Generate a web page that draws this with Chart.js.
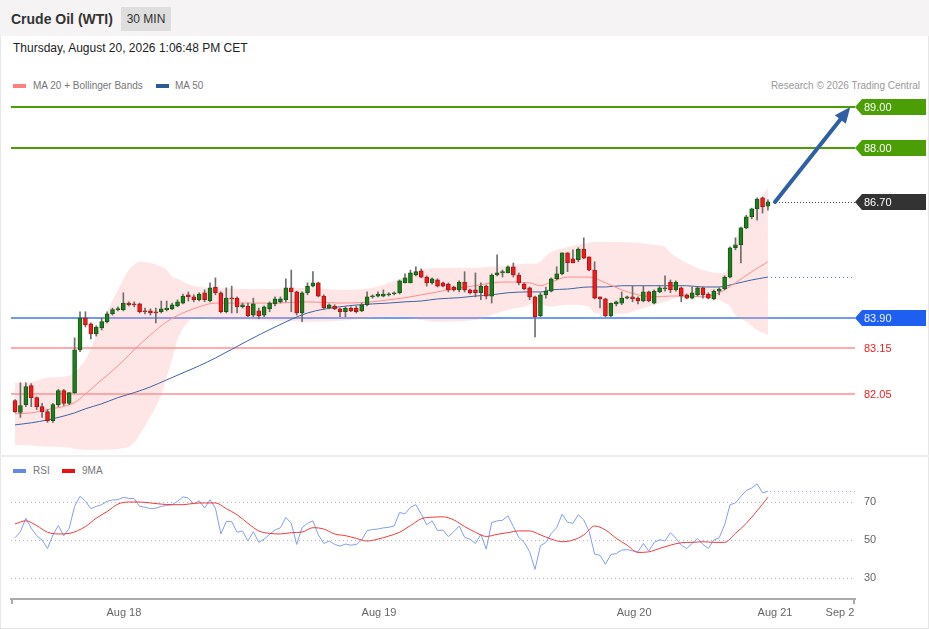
<!DOCTYPE html>
<html><head><meta charset="utf-8">
<script src="https://cdn.jsdelivr.net/npm/chart.js@4.4.1/dist/chart.umd.min.js"></script>
<style>
html,body{margin:0;padding:0;background:#fff;}
body{width:929px;height:629px;position:relative;overflow:hidden;font-family:"Liberation Sans",Arial,Helvetica,sans-serif;}
#frame{position:absolute;left:0;top:0;width:927px;height:627px;border:1px solid #e6e6e6;}
#header{position:absolute;left:0;top:0;width:929px;height:36px;background:#f5f3f3;}
#title{position:absolute;left:11px;top:11px;font-size:14px;line-height:16px;font-weight:bold;color:#333;}
#tf{position:absolute;left:121px;top:7px;width:50px;height:24px;background:#dedede;color:#333;font-size:12px;line-height:24px;text-align:center;}
#date{position:absolute;left:13px;top:41px;font-size:12px;line-height:14px;color:#222;}
.leg{position:absolute;font-size:10px;line-height:12px;color:#777;white-space:nowrap;}
.sw{position:absolute;width:13px;height:4px;}
#sep{position:absolute;left:0;top:455px;width:929px;height:2px;background:#eeeeee;}
.cv{position:absolute;left:0;}
</style></head>
<body>
<div id="frame"></div>
<div id="header"></div>
<div id="title">Crude Oil (WTI)</div>
<div id="tf">30 MIN</div>
<div id="date">Thursday, August 20, 2026 1:06:48 PM CET</div>
<div class="sw" style="left:13px;top:84px;background:#ff8080;"></div>
<div class="leg" style="left:33px;top:80px;">MA 20 + Bollinger Bands</div>
<div class="sw" style="left:156px;top:84px;background:#2f5a9a;"></div>
<div class="leg" style="left:175px;top:80px;">MA 50</div>
<div class="leg" style="right:9px;top:80px;color:#999;">Research © 2026 Trading Central</div>
<div id="sep"></div>
<div class="sw" style="left:13px;top:469px;background:#6688e8;"></div>
<div class="leg" style="left:33px;top:465px;">RSI</div>
<div class="sw" style="left:62px;top:469px;background:#ee1111;"></div>
<div class="leg" style="left:82px;top:465px;">9MA</div>
<div class="cv" style="top:90px;width:929px;height:365px;"><canvas id="price" width="929" height="365"></canvas></div>
<div class="cv" style="top:457px;width:929px;height:172px;"><canvas id="rsi" width="929" height="172"></canvas></div>
<script>
// ---------- DATA ----------
const opens = [
81.89,81.60,81.79,82.25,81.96,81.74,81.62,81.40,81.79,82.13,
81.82,82.08,83.12,83.89,83.75,83.50,83.65,83.80,83.99,84.09,
84.09,84.25,84.23,84.23,84.06,84.06,84.04,84.04,84.09,84.11,
84.18,84.25,84.45,84.40,84.33,84.50,84.30,84.64,84.50,84.04,
84.37,84.37,84.16,84.18,83.96,84.06,83.96,84.11,84.23,84.28,
84.33,84.62,84.52,84.01,84.50,84.66,84.74,84.42,84.13,84.18,
84.11,84.04,84.13,84.13,84.06,84.21,84.40,84.42,84.42,84.45,
84.47,84.50,84.74,84.74,84.93,85.03,84.88,84.74,84.81,84.74,
84.71,84.64,84.57,84.76,84.57,84.57,84.50,84.66,84.42,84.93,
84.98,84.98,85.13,84.93,84.71,84.62,84.40,83.94,84.45,84.54,
84.84,84.96,85.47,85.32,85.30,85.56,85.37,85.05,84.40,84.35,
83.94,84.23,84.25,84.37,84.40,84.37,84.30,84.52,84.25,84.52,
84.59,84.76,84.57,84.62,84.45,84.37,84.45,84.62,84.47,84.35,
84.54,84.59,84.88,85.59,85.66,86.07,86.34,86.53,86.80,86.60];
const highs = [
81.91,82.32,82.32,82.30,81.98,81.82,81.67,81.82,82.16,82.16,
82.08,83.41,84.04,84.04,83.77,83.70,83.89,84.04,84.13,84.16,
84.50,84.28,84.28,84.25,84.13,84.11,84.13,84.30,84.30,84.25,
84.33,84.47,84.52,84.45,84.50,84.57,84.74,84.86,84.52,84.62,
84.66,84.40,84.25,84.25,84.37,84.13,84.18,84.28,84.40,84.40,
84.84,85.05,84.54,84.52,84.74,85.01,84.76,84.45,84.23,84.21,
84.13,84.16,84.16,84.18,84.25,84.52,84.45,84.52,84.57,84.50,
84.52,84.81,84.96,85.05,85.13,85.08,84.91,84.86,84.84,84.76,
84.74,84.66,84.79,85.01,84.59,84.98,84.74,84.69,84.96,85.42,
85.05,85.15,85.22,84.98,84.74,84.64,84.42,84.50,84.64,84.86,
85.13,85.47,85.47,85.54,85.59,85.83,85.37,85.25,84.40,84.37,
84.25,84.30,84.52,84.42,84.66,84.40,84.66,84.54,84.57,84.66,
84.91,84.81,84.79,84.64,84.47,84.64,84.64,84.64,84.50,84.57,
84.62,84.91,85.61,85.83,86.09,86.38,86.55,86.80,86.82,86.75];
const lows = [
81.60,81.48,81.74,81.74,81.67,81.48,81.36,81.36,81.74,81.77,
81.79,82.06,83.07,83.67,83.38,83.45,83.60,83.77,83.96,84.06,
84.06,84.18,84.16,84.01,83.99,83.96,83.77,84.01,84.06,84.09,
84.16,84.23,84.30,84.28,84.30,84.28,84.28,84.45,84.01,84.01,
84.01,84.01,84.13,83.92,83.92,83.87,83.92,84.04,84.18,84.25,
84.28,84.04,83.96,83.80,84.45,84.64,84.40,84.09,84.11,84.09,
83.92,83.92,84.04,84.01,84.04,84.18,84.37,84.40,84.40,84.42,
84.45,84.47,84.74,84.74,84.91,84.86,84.66,84.71,84.64,84.64,
84.52,84.54,84.52,84.52,84.47,84.40,84.33,84.35,84.25,84.91,
84.88,84.98,84.88,84.69,84.57,84.33,83.43,83.92,84.37,84.52,
84.81,84.93,85.01,85.22,85.25,85.32,85.03,84.35,84.13,83.92,
83.92,84.18,84.21,84.35,84.28,84.23,84.28,84.28,84.23,84.50,
84.54,84.50,84.54,84.28,84.35,84.35,84.42,84.37,84.35,84.33,
84.45,84.57,84.86,85.54,85.22,86.05,86.29,86.26,86.43,86.50];
const closes = [
81.62,81.77,82.23,81.96,81.74,81.62,81.40,81.79,82.13,81.82,
82.08,83.12,83.89,83.72,83.50,83.67,83.80,83.99,84.09,84.11,
84.25,84.21,84.21,84.04,84.04,84.01,84.01,84.11,84.13,84.21,
84.28,84.42,84.40,84.33,84.47,84.33,84.62,84.50,84.04,84.37,
84.35,84.16,84.21,83.94,84.23,83.94,84.16,84.25,84.35,84.35,
84.62,84.52,84.01,84.50,84.66,84.74,84.42,84.13,84.21,84.11,
84.04,84.13,84.06,84.04,84.21,84.40,84.42,84.47,84.47,84.47,
84.50,84.79,84.86,84.98,85.01,84.88,84.74,84.84,84.66,84.66,
84.57,84.57,84.76,84.57,84.50,84.50,84.66,84.42,84.93,84.98,
85.01,85.13,84.93,84.74,84.59,84.40,83.92,84.45,84.54,84.84,
84.96,85.47,85.22,85.22,85.56,85.34,85.05,84.37,84.35,83.94,
84.25,84.28,84.37,84.40,84.35,84.30,84.52,84.30,84.54,84.62,
84.62,84.57,84.76,84.42,84.37,84.50,84.62,84.45,84.37,84.54,
84.59,84.88,85.59,85.66,86.07,86.34,86.53,86.77,86.58,86.70];

// moving averages sampled at candle indices
const maIdx = [0,3,6,11,13,16,19,22,25,28,31,34,37,43,48,54,60,66,69,72,75,78,82,85,88,91,95,97,99,102,106,109,112,115,118,121,124,127,130,133,136,139];
const ma20 = [81.57,81.59,81.67,81.84,82.05,82.39,82.73,83.12,83.48,83.80,84.01,84.16,84.25,84.25,84.25,84.28,84.25,84.28,84.33,84.38,84.45,84.52,84.62,84.67,84.74,84.76,84.74,84.67,84.76,84.88,84.88,84.74,84.57,84.45,84.40,84.42,84.42,84.40,84.50,84.74,85.01,85.25];
const ma50 = [81.30,81.35,81.42,81.59,81.69,81.81,81.96,82.08,82.22,82.39,82.56,82.73,82.92,83.34,83.67,84.01,84.16,84.23,84.25,84.28,84.30,84.35,84.38,84.42,84.45,84.50,84.52,84.52,84.57,84.59,84.64,84.64,84.67,84.67,84.67,84.67,84.67,84.64,84.64,84.72,84.81,84.88];

// Bollinger bands
const bandIdx = [0,3,6,10,11,13,16,19,21,22,23,25,27,28,29,30,32,34,37,43,48,54,60,66,69,72,75,78,85,88,91,94,96,99,102,106,107,112,115,118,120,121,124,127,130,131,132,133,135,137,139];
const bandUpper = [82.32,82.34,82.44,82.49,82.59,82.88,83.77,84.57,85.05,85.18,85.25,85.22,85.13,85.05,84.88,84.84,84.71,84.64,84.62,84.59,84.59,84.62,84.57,84.62,84.74,84.88,85.05,85.10,85.10,85.13,85.15,85.20,85.20,85.49,85.61,85.71,85.73,85.73,85.71,85.66,85.61,85.47,85.22,85.05,84.98,84.98,85.25,85.78,86.26,86.67,87.04];
const bandLower = [80.82,80.80,80.77,80.75,80.72,80.70,80.70,80.72,80.77,80.87,81.06,81.50,82.03,82.47,82.88,83.36,83.80,83.89,83.84,83.84,83.82,83.80,83.82,83.89,83.92,83.92,83.84,83.80,83.84,83.96,84.09,84.16,84.25,84.16,84.21,84.16,84.01,83.99,84.09,84.21,84.28,84.33,84.45,84.38,84.33,84.25,84.18,83.96,83.80,83.60,83.48];

// key levels
const levelValues = [89.00, 88.00, 86.70, 83.90, 83.15, 82.05];
const levelKinds  = ['resistance','resistance','last','pivot','support','support'];

// forecast arrow [index, price]
const arrowFrom = [140.3, 86.70];
const arrowTo   = [154.2, 89.00];

// RSI
const rsi = [
51.2,54.4,61.5,56.2,52.3,50.0,45.6,52.7,57.6,52.3,
56.2,67.7,73.0,70.4,66.5,67.7,68.6,70.4,71.1,71.2,
72.5,71.9,71.8,67.7,67.3,66.5,66.8,67.7,68.2,68.6,
70.4,72.7,72.1,68.9,70.7,66.8,71.2,66.8,53.2,59.7,
59.7,54.1,54.8,49.5,54.4,48.8,50.5,53.0,55.3,56.5,
61.9,58.8,47.7,56.5,58.8,60.1,52.7,48.2,49.5,47.7,
46.8,47.9,47.3,47.7,50.0,55.0,55.5,55.8,56.4,56.7,
57.4,64.5,63.8,67.3,68.6,63.6,58.0,60.1,55.0,55.3,
51.8,54.4,57.4,51.5,50.4,48.2,53.0,45.2,59.2,60.1,
60.4,62.7,57.1,51.4,48.8,43.8,34.6,47.0,48.8,53.5,
56.5,63.6,59.4,58.8,63.3,60.6,54.4,42.6,42.0,37.3,
42.4,42.9,44.7,45.0,44.3,43.8,48.2,44.2,48.8,50.2,
49.5,53.9,50.9,47.3,45.6,48.2,50.9,47.7,45.6,50.0,
51.2,58.0,68.6,69.5,73.0,76.0,77.4,79.6,74.8,75.7];
const rsiMaIdx = [0,2,4,6,8,10,13,15,17,19,21,23,25,27,29,31,33,35,37,39,41,43,45,47,49,51,53,55,57,59,61,63,65,67,69,71,73,75,77,79,81,83,85,87,89,91,93,95,97,99,101,103,105,107,109,111,113,115,117,119,121,123,125,127,129,131,133,135,137,139];
const rsiMa = [58.5,60.1,57.6,54.1,53.2,53.5,57.1,61.5,65.0,68.9,70.0,70.0,69.5,68.9,68.6,68.6,69.3,69.5,69.5,66.5,63.3,58.8,54.8,53.5,53.2,53.9,54.2,56.5,55.8,53.2,52.3,50.9,49.5,50.5,52.1,54.1,57.6,61.2,62.0,62.2,60.6,57.1,54.1,51.9,53.0,53.9,54.8,54.8,52.7,50.5,49.1,50.0,52.7,57.4,55.3,50.9,47.3,43.5,43.8,45.6,47.3,48.6,48.8,49.1,48.8,48.8,53.5,58.8,65.4,72.5];
const rsiGrid = [30, 50, 70];

// x axis
const tickIdx = [20.1, 67.2, 114.3, 140.3, 152.3];
const tickLabels = ['Aug 18', 'Aug 19', 'Aug 20', 'Aug 21', 'Sep 2'];

// ---------- CHART ----------
const X_MIN = -0.74, X_MAX = 155.07;
Chart.defaults.font.family = '"Liberation Sans", Arial, Helvetica, sans-serif';
Chart.defaults.animation = false;

const GREEN = '#1e7d1e', GREEN_B = '#125a12', RED = '#ee1c1c', RED_B = '#b01212';
const isUp = i => closes[i] >= opens[i];
const idx = opens.map((_, i) => i);

const levelStyle = {
  resistance: {line: '#4b9e05', box: '#4b9e05', text: '#ffffff'},
  last:       {line: null,      box: '#333333', text: '#ffffff'},
  pivot:      {line: '#6f9cf2', box: '#1f5ff0', text: '#eef3ff'},
  support:    {line: '#ffabab', box: null,      text: '#f01e1e'}
};

const pricePlugin = {
  id: 'priceDecor',
  beforeDatasetsDraw(chart) {
    const {ctx, chartArea: a, scales: {y}} = chart;
    ctx.save();
    levelValues.forEach((v, k) => {
      const st = levelStyle[levelKinds[k]];
      if (!st.line) return;
      const py = Math.round(y.getPixelForValue(v));
      ctx.strokeStyle = st.line; ctx.lineWidth = 2;
      ctx.beginPath(); ctx.moveTo(a.left, py); ctx.lineTo(a.right, py); ctx.stroke();
    });
    ctx.restore();
  },
  afterDatasetsDraw(chart) {
    const {ctx, chartArea: a, scales: {x, y}} = chart;
    const last = idx.length - 1;
    ctx.save();
    ctx.lineWidth = 1;
    ctx.setLineDash([1, 2]);
    ctx.strokeStyle = '#444';
    let py = Math.round(y.getPixelForValue(closes[last])) + 0.5;
    ctx.beginPath(); ctx.moveTo(x.getPixelForValue(last) + 8, py); ctx.lineTo(a.right, py); ctx.stroke();
    ctx.strokeStyle = '#5577bb';
    ctx.setLineDash([1, 3]);
    py = Math.round(y.getPixelForValue(ma50[ma50.length - 1])) + 0.5;
    ctx.beginPath(); ctx.moveTo(x.getPixelForValue(maIdx[maIdx.length - 1]) + 3, py); ctx.lineTo(a.right, py); ctx.stroke();
    ctx.setLineDash([]);
    const x0 = x.getPixelForValue(arrowFrom[0]), y0 = y.getPixelForValue(arrowFrom[1]);
    const x1 = x.getPixelForValue(arrowTo[0]), y1 = y.getPixelForValue(arrowTo[1]);
    const ang = Math.atan2(y1 - y0, x1 - x0), L = 16, W = 7;
    const bx = x1 - L * Math.cos(ang), by = y1 - L * Math.sin(ang);
    ctx.strokeStyle = '#2e60a2'; ctx.fillStyle = '#2e60a2'; ctx.lineWidth = 4; ctx.lineCap = 'round';
    ctx.beginPath(); ctx.moveTo(x0, y0); ctx.lineTo(bx, by); ctx.stroke();
    ctx.beginPath();
    ctx.moveTo(x1, y1);
    ctx.lineTo(bx + W * Math.sin(ang), by - W * Math.cos(ang));
    ctx.lineTo(bx - W * Math.sin(ang), by + W * Math.cos(ang));
    ctx.closePath(); ctx.fill();
    ctx.font = '11px "Liberation Sans", Arial, sans-serif';
    ctx.textBaseline = 'middle';
    levelValues.forEach((v, k) => {
      const st = levelStyle[levelKinds[k]];
      const ly = Math.round(y.getPixelForValue(v));
      const lx = a.right;
      if (st.box) {
        ctx.fillStyle = st.box;
        ctx.beginPath();
        ctx.moveTo(lx, ly); ctx.lineTo(lx + 7, ly - 8); ctx.lineTo(lx + 71, ly - 8);
        ctx.lineTo(lx + 71, ly + 8); ctx.lineTo(lx + 7, ly + 8); ctx.closePath(); ctx.fill();
      }
      ctx.fillStyle = st.text;
      ctx.fillText(v.toFixed(2), lx + 9, ly + 0.5);
    });
    ctx.restore();
  }
};

new Chart(document.getElementById('price'), {
  type: 'bar',
  data: {
    datasets: [
      {type: 'line', data: bandIdx.map((v, k) => ({x: v, y: bandUpper[k]})), borderColor: 'rgba(0,0,0,0)', borderWidth: 1, pointRadius: 0, fill: false, cubicInterpolationMode: 'monotone', order: 10},
      {type: 'line', data: bandIdx.map((v, k) => ({x: v, y: bandLower[k]})), borderColor: 'rgba(0,0,0,0)', borderWidth: 1, pointRadius: 0, fill: '-1', backgroundColor: 'rgba(250,160,160,0.26)', cubicInterpolationMode: 'monotone', order: 9},
      {type: 'line', data: maIdx.map((v, k) => ({x: v, y: ma50[k]})), borderColor: '#3d63a3', borderWidth: 1, pointRadius: 0, fill: false, cubicInterpolationMode: 'monotone', order: 6},
      {type: 'line', data: maIdx.map((v, k) => ({x: v, y: ma20[k]})), borderColor: '#ff8c8c', borderWidth: 1, pointRadius: 0, fill: false, cubicInterpolationMode: 'monotone', order: 5},
      {type: 'bar', data: idx.map(i => ({x: i, y: [lows[i], highs[i]]})), backgroundColor: '#6e6e6e', barThickness: 1, grouped: false, order: 2},
      {type: 'bar', data: idx.map(i => ({x: i, y: [opens[i], closes[i]]})),
        backgroundColor: c => isUp(c.dataIndex) ? GREEN : RED,
        borderColor: c => isUp(c.dataIndex) ? GREEN_B : RED_B,
        borderWidth: 1, borderSkipped: false, barThickness: 4, minBarLength: 1, grouped: false, order: 1}
    ]
  },
  options: {
    responsive: false, maintainAspectRatio: false, events: [],
    layout: {padding: {left: 11, right: 74, top: 5, bottom: 0}},
    plugins: {legend: {display: false}, tooltip: {enabled: false}},
    scales: {
      x: {type: 'linear', min: X_MIN, max: X_MAX, display: false, offset: false},
      y: {type: 'linear', min: 80.57, max: 89.29, display: false}
    }
  },
  plugins: [pricePlugin]
});

const rsiPlugin = {
  id: 'rsiDecor',
  beforeDatasetsDraw(chart) {
    const {ctx, chartArea: a, scales: {y}} = chart;
    ctx.save();
    ctx.strokeStyle = '#b8b8b8'; ctx.lineWidth = 1; ctx.setLineDash([1, 3]);
    rsiGrid.forEach(v => {
      const py = Math.round(y.getPixelForValue(v)) + 0.5;
      ctx.beginPath(); ctx.moveTo(a.left, py); ctx.lineTo(a.right, py); ctx.stroke();
    });
    ctx.restore();
  },
  afterDatasetsDraw(chart) {
    const {ctx, chartArea: a, scales: {x, y}} = chart;
    const last = rsi.length - 1;
    ctx.save();
    ctx.strokeStyle = '#8aa4f0'; ctx.lineWidth = 1; ctx.setLineDash([1, 3]);
    const py = Math.round(y.getPixelForValue(rsi[last])) + 0.5;
    ctx.beginPath(); ctx.moveTo(x.getPixelForValue(last) + 2, py); ctx.lineTo(a.right, py); ctx.stroke();
    ctx.setLineDash([]);
    ctx.strokeStyle = '#aaaaaa'; ctx.lineWidth = 2;
    ctx.beginPath();
    ctx.moveTo(a.left + 1, a.bottom); ctx.lineTo(a.left + 1, a.bottom + 5);
    ctx.moveTo(a.right - 1, a.bottom); ctx.lineTo(a.right - 1, a.bottom + 5);
    ctx.stroke();
    ctx.restore();
  }
};

new Chart(document.getElementById('rsi'), {
  type: 'line',
  data: {
    datasets: [
      {data: idx.map(i => ({x: i, y: rsi[i]})), borderColor: '#829ef0', borderWidth: 1, pointRadius: 0, fill: false, tension: 0, order: 2},
      {data: rsiMaIdx.map((v, k) => ({x: v, y: rsiMa[k]})), borderColor: '#f03a3a', borderWidth: 1, pointRadius: 0, fill: false, cubicInterpolationMode: 'monotone', order: 1}
    ]
  },
  options: {
    responsive: false, maintainAspectRatio: false, events: [],
    layout: {padding: {left: 11, right: 0, top: 7, bottom: 0}},
    plugins: {legend: {display: false}, tooltip: {enabled: false}},
    scales: {
      x: {
        type: 'linear', min: X_MIN, max: X_MAX, offset: false,
        afterBuildTicks: s => { s.ticks = tickIdx.map(v => ({value: v})); },
        afterFit: s => { s.height = 30; s.paddingLeft = 0; s.paddingRight = 0; },
        grid: {display: false, drawTicks: false},
        border: {display: true, color: '#aaaaaa', width: 2},
        ticks: {autoSkip: false, maxRotation: 0, padding: 7, color: '#666', font: {size: 11},
          callback: (v, i) => tickLabels[i]}
      },
      y: {
        type: 'linear', position: 'right', min: 19, max: 90,
        afterBuildTicks: s => { s.ticks = rsiGrid.map(v => ({value: v})); },
        afterFit: s => { s.width = 74; s.paddingTop = 0; s.paddingBottom = 0; },
        grid: {display: false, drawTicks: false},
        border: {display: false},
        ticks: {padding: 9, color: '#666', font: {size: 11}, callback: v => String(v)}
      }
    }
  },
  plugins: [rsiPlugin]
});
</script>
</body></html>
